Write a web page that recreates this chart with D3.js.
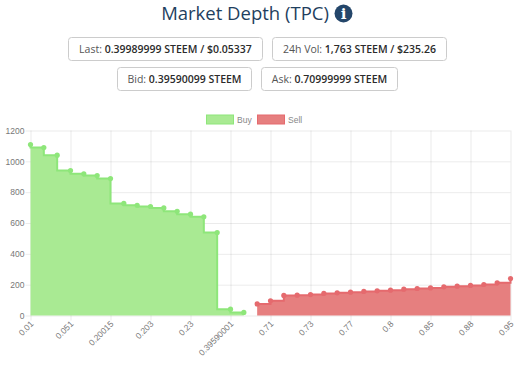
<!DOCTYPE html>
<html lang="en">
<head>
<meta charset="utf-8">
<title>Market Depth (TPC)</title>
<script src="https://cdn.jsdelivr.net/npm/d3@7"></script>
<style>
  html, body { margin: 0; padding: 0; background: #fff; }
  svg { display: block; }
  .axis text { font-family: "Liberation Sans", sans-serif; font-size: 8.5px; fill: #777; }
  .axis path { display: none; }
  .axis line { stroke: #000; stroke-opacity: 0.08; }
  .stat { font-family: "Open Sans", sans-serif; font-size: 10.5px; fill: #555; }
  .stat .val { fill: #2b2b2b; font-weight: 600; }
</style>
</head>
<body>
<script>
// one category per order book level, a1, a2... are the levels with no printed label
const levels = [
  "0.01", "a1", "a2", "0.051", "a4", "a5", "0.20015", "a7", "a8", "0.203", "a10", "a11",
  "0.23", "a13", "a14", "0.39590001", "a16", "a17", "0.71", "a19", "a20", "0.73", "a22", "a23",
  "0.77", "a25", "a26", "0.8", "a28", "a29", "0.85", "a31", "a32", "0.88", "a34", "a35", "0.95"
];
const tickLabels = ["0.01", "0.051", "0.20015", "0.203", "0.23", "0.39590001", "0.71", "0.73", "0.77", "0.8", "0.85", "0.88", "0.95"];
const yTicks = [0, 200, 400, 600, 800, 1000, 1200];

const buyValues = [1109, 1089, 1040, 940, 919, 908, 888, 727, 715, 707, 698, 676, 657, 640, 538, 41, 20];
const sellValues = [75, 95, 130, 132, 136, 143, 147, 151, 156, 160, 164, 171, 175, 179, 186, 190, 195, 201, 212, 240];

const stats = [
  { label: "Last: ", val: "0.39989999 STEEM / $0.05337", x: 68, w: 194, row: 0 },
  { label: "24h Vol: ", val: "1,763 STEEM / $235.26", x: 272, w: 174, row: 0 },
  { label: "Bid: ", val: "0.39590099 STEEM", x: 117, w: 134, row: 1 },
  { label: "Ask: ", val: "0.70999999 STEEM", x: 261, w: 136, row: 1 }
];

const w = 526, h = 367;
const plotLeft = 30.5, plotRight = 510.5, plotTop = 130.5, plotBottom = 315.5;

const svg = d3.select("body").append("svg").attr("width", w).attr("height", h);

// heading
svg.append("text")
  .attr("x", 245).attr("y", 20)
  .attr("text-anchor", "middle")
  .attr("font-family", "Open Sans, sans-serif")
  .attr("font-size", 18.5)
  .attr("font-weight", 500)
  .attr("fill", "#1f3f60")
  .text("Market Depth (TPC)");
svg.append("circle").attr("cx", 343.5).attr("cy", 13.5).attr("r", 9).attr("fill", "#24466a");
svg.append("text")
  .attr("x", 343.5).attr("y", 19)
  .attr("text-anchor", "middle")
  .attr("font-family", "DejaVu Serif, serif")
  .attr("font-weight", "bold")
  .attr("font-size", 15)
  .attr("fill", "#fff")
  .text("i");

// the four stat boxes
const boxes = svg.selectAll("g.box").data(stats).enter().append("g")
  .attr("class", "box")
  .attr("transform", d => "translate(" + d.x + "," + (37.5 + d.row * 30) + ")");
boxes.append("rect")
  .attr("x", 0.5).attr("y", 0)
  .attr("width", d => d.w).attr("height", 23)
  .attr("rx", 3)
  .attr("fill", "#fff")
  .attr("stroke", "#ccc");
const labels = boxes.append("text")
  .attr("class", "stat")
  .attr("x", d => d.w / 2 + 0.5).attr("y", 15.5)
  .attr("text-anchor", "middle");
labels.append("tspan").text(d => d.label);
labels.append("tspan").attr("class", "val").text(d => d.val);

// scales
const xScale = d3.scalePoint().domain(levels).range([plotLeft, plotRight]);
const yScale = d3.scaleLinear().domain([0, 1200]).range([plotBottom, plotTop]);

const xAxis = d3.axisBottom(xScale)
  .tickValues(tickLabels)
  .tickSize(-(plotBottom - plotTop))
  .tickPadding(8);
const yAxis = d3.axisLeft(yScale)
  .tickValues(yTicks)
  .tickFormat(d3.format("d"))
  .tickSize(plotRight - plotLeft + 5)
  .tickPadding(1);

const gx = svg.append("g").attr("class", "axis")
  .attr("transform", "translate(0," + plotBottom + ")")
  .call(xAxis);
gx.selectAll("text")
  .attr("text-anchor", "end")
  .attr("dy", 0)
  .attr("y", 0)
  .attr("transform", "translate(3,9) rotate(-45)");
// short tick below the zero line
gx.selectAll(".tick").append("line")
  .attr("y1", 0).attr("y2", 5);

const gy = svg.append("g").attr("class", "axis")
  .attr("transform", "translate(" + plotRight + ",0)")
  .call(yAxis);
gy.selectAll(".tick").filter(d => d === 0).select("line").attr("stroke-opacity", 0.25);

// stepped area + line + dots for one side of the book
function drawSide(values, cats, curve, fill, stroke) {
  const rows = values.map((v, i) => [cats[i], v]);
  const area = d3.area()
    .x(d => xScale(d[0]))
    .y0(yScale(0))
    .y1(d => yScale(d[1]))
    .curve(curve);
  const line = d3.line()
    .x(d => xScale(d[0]))
    .y(d => yScale(d[1]))
    .curve(curve);
  svg.append("path").datum(rows).attr("d", area).attr("fill", fill);
  svg.append("path").datum(rows).attr("d", line)
    .attr("fill", "none").attr("stroke", stroke).attr("stroke-width", 2);
  svg.append("g").selectAll("circle").data(rows).enter().append("circle")
    .attr("cx", d => xScale(d[0]))
    .attr("cy", d => yScale(d[1]))
    .attr("r", 2.6)
    .attr("fill", stroke);
}

drawSide(buyValues, levels.slice(0, buyValues.length), d3.curveStepBefore, "#a9ea93", "#8ee67a");
drawSide(sellValues, levels.slice(buyValues.length), d3.curveStepAfter, "#e67f7f", "#e56a6e");

// legend
const legend = [
  { name: "Buy", x: 206.5, fill: "#a9ea93", stroke: "#8ee67a" },
  { name: "Sell", x: 257.5, fill: "#e67f7f", stroke: "#e56a6e" }
];
const lg = svg.selectAll("g.legend").data(legend).enter().append("g").attr("class", "legend");
lg.append("rect")
  .attr("x", d => d.x).attr("y", 115)
  .attr("width", 27).attr("height", 9)
  .attr("fill", d => d.fill).attr("stroke", d => d.stroke);
lg.append("text")
  .attr("x", d => d.x + 30.5).attr("y", 122.5)
  .attr("font-family", "Liberation Sans, sans-serif")
  .attr("font-size", 8.5)
  .attr("fill", "#888")
  .text(d => d.name);
</script>
</body>
</html>
